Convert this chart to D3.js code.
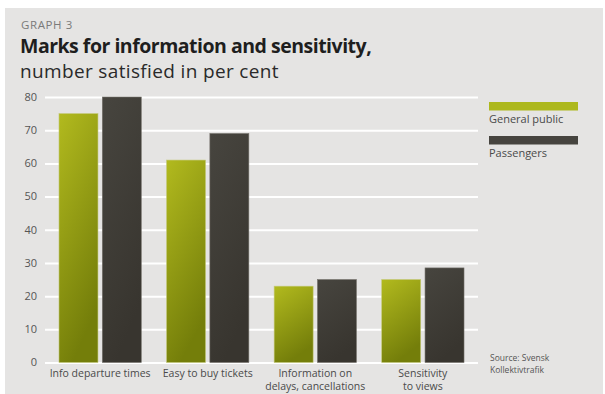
<!DOCTYPE html>
<html>
<head>
<meta charset="utf-8">
<script src="https://cdn.jsdelivr.net/npm/d3@7"></script>
<style>
  html, body { margin: 0; padding: 0; background: #ffffff; }
  svg { display: block; font-family: "Open Sans", "Noto Sans", sans-serif; }
</style>
</head>
<body>
<svg id="chart" width="605" height="394"></svg>
<script>
// Survey results: share satisfied, per cent
const categories = [
  ["Info departure times"],
  ["Easy to buy tickets"],
  ["Information on", "delays, cancellations"],
  ["Sensitivity", "to views"]
];
const seriesNames = ["General public", "Passengers"];
const generalPublic = [75, 61, 23, 25];
const passengers = [80, 69, 25, 28.5];
const yTicks = [0, 10, 20, 30, 40, 50, 60, 70, 80];

const svg = d3.select("#chart");
const W = 605, H = 394;

// panel background
svg.append("rect").attr("x", 5).attr("y", 8).attr("width", 598).attr("height", H - 8)
  .attr("fill", "#e5e4e3");

// gradients for the bars
const defs = svg.append("defs");
const gGreen = defs.append("linearGradient").attr("id", "gGreen")
  .attr("x1", "0").attr("y1", "0").attr("x2", "0.35").attr("y2", "1");
gGreen.append("stop").attr("offset", "0%").attr("stop-color", "#b2ba1e");
gGreen.append("stop").attr("offset", "100%").attr("stop-color", "#747e0a");
const gDark = defs.append("linearGradient").attr("id", "gDark")
  .attr("x1", "0").attr("y1", "0").attr("x2", "0.35").attr("y2", "1");
gDark.append("stop").attr("offset", "0%").attr("stop-color", "#47453f");
gDark.append("stop").attr("offset", "100%").attr("stop-color", "#38352f");

// titles
svg.append("text").attr("x", 21).attr("y", 29).text("GRAPH 3")
  .attr("font-size", 11.5).attr("fill", "#7a7a7a").attr("letter-spacing", 0.6);
svg.append("text").attr("x", 20).attr("y", 52.5).text("Marks for information and sensitivity,")
  .attr("font-size", 19.5).attr("font-weight", "bold").attr("fill", "#1e1e1e")
  .attr("letter-spacing", -0.5);
svg.append("text").attr("x", 20).attr("y", 77.5).text("number satisfied in per cent")
  .attr("font-size", 19).attr("fill", "#2a2a2a").attr("letter-spacing", 0.35);

// scales
const y = d3.scaleLinear().domain([0, 80]).range([362.5, 97]);
const x0 = d3.scaleBand().domain(d3.range(categories.length)).range([45, 478]).paddingInner(0.235).paddingOuter(0.13);
const x1 = d3.scaleBand().domain(d3.range(seriesNames.length)).range([0, x0.bandwidth()]).paddingInner(0.1);

// gridlines + y tick labels
const yAxis = d3.axisLeft(y).tickValues(yTicks).tickSize(-(478 - 45)).tickPadding(8);
const gy = svg.append("g").attr("transform", "translate(45,0)").call(yAxis);
gy.select(".domain").remove();
gy.selectAll(".tick line").attr("stroke", "#ffffff").attr("stroke-width", 2);
gy.selectAll(".tick text").attr("fill", "#555555").attr("font-size", 11)
  .attr("font-family", "\"Open Sans\", sans-serif").attr("dy", "0.3em");

// bars
const fills = ["url(#gGreen)", "url(#gDark)"];
const strokes = ["#c4c978", "#75726c"];
const values = [generalPublic, passengers];
const groups = svg.append("g").selectAll("g").data(categories).join("g")
  .attr("transform", (d, i) => `translate(${x0(i)},0)`);
groups.selectAll("rect").data((d, i) => values.map((s, k) => ({ k, v: s[i] }))).join("rect")
  .attr("x", d => x1(d.k))
  .attr("width", x1.bandwidth())
  .attr("y", d => y(d.v))
  .attr("height", d => y(0) - y(d.v))
  .attr("fill", d => fills[d.k])
  .attr("stroke", d => strokes[d.k]).attr("stroke-width", 0.6);

// category labels
const labels = svg.append("g").selectAll("text").data(categories).join("text")
  .attr("x", (d, i) => x0(i) + x0.bandwidth() / 2)
  .attr("y", 376.5)
  .attr("text-anchor", "middle")
  .attr("font-size", 10.5).attr("fill", "#4a4a4a");
labels.selectAll("tspan").data(d => d).join("tspan")
  .attr("x", function () { return this.parentNode.getAttribute("x"); })
  .attr("dy", (d, j) => j === 0 ? 0 : 13)
  .text(d => d);

// legend
const legend = svg.append("g");
const legendFill = ["#adb81d", "#46443f"];
seriesNames.forEach((name, k) => {
  legend.append("rect").attr("x", 489).attr("y", 102 + k * 34).attr("width", 89).attr("height", 8.5)
    .attr("fill", legendFill[k]);
  legend.append("text").attr("x", 489).attr("y", 123 + k * 34).text(name)
    .attr("font-size", 11).attr("fill", "#4a4a4a");
});

// source note
svg.append("text").attr("x", 490).attr("y", 361).text("Source: Svensk")
  .attr("font-size", 8.5).attr("fill", "#555555");
svg.append("text").attr("x", 490).attr("y", 373).text("Kollektivtrafik")
  .attr("font-size", 8.5).attr("fill", "#555555");
</script>
</body>
</html>
